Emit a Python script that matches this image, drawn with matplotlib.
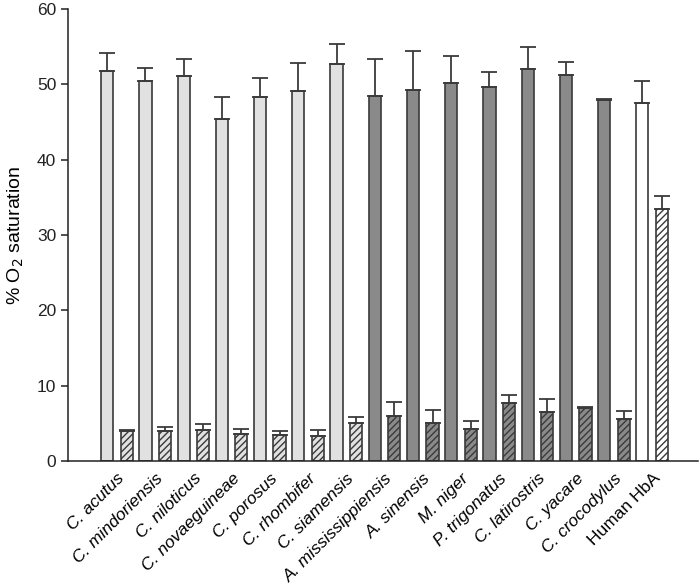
import numpy as np
import matplotlib
matplotlib.use('Agg')
import matplotlib.pyplot as plt

plt.rcParams['font.family'] = ['Liberation Sans', 'DejaVu Sans']
plt.rcParams['hatch.linewidth'] = 1.0

species = ['C. acutus', 'C. mindoriensis', 'C. niloticus', 'C. novaeguineae',
           'C. porosus', 'C. rhombifer', 'C. siamensis', 'A. mississippiensis',
           'A. sinensis', 'M. niger', 'P. trigonatus', 'C. latirostris',
           'C. yacare', 'C. crocodylus', 'Human HbA']

# plain bars and their upper error
plain_vals = [51.8, 50.4, 51.1, 45.4, 48.3, 49.1, 52.7, 48.4,
              49.3, 50.2, 49.7, 52.0, 51.2, 47.9, 47.5]
plain_err = [2.4, 1.8, 2.2, 2.9, 2.6, 3.7, 2.6, 5.0,
             5.1, 3.5, 2.0, 2.9, 1.8, 0.1, 2.9]

# hatched bars and their upper error
hatch_vals = [4.0, 4.0, 4.1, 3.6, 3.5, 3.3, 5.1, 6.0,
              5.1, 4.2, 7.7, 6.5, 7.1, 5.6, 33.45]
hatch_err = [0.1, 0.5, 0.85, 0.65, 0.45, 0.85, 0.8, 1.8,
             1.7, 1.15, 1.0, 1.7, 0.1, 1.1, 1.75]

# fill per group: crocodylids light, alligatorids dark, human white
LIGHT = '#e1e1e1'
DARK = '#8a8a8a'
WHITE = '#ffffff'
fills = [LIGHT] * 7 + [DARK] * 7 + [WHITE]
EDGE = '#3a3a3a'

fig = plt.figure(figsize=(7.0, 5.87), dpi=100)
ax = fig.add_axes([68 / 700, 126 / 587, 630 / 700, 452 / 587])

x = np.arange(len(species))
w = 0.32
off = 0.255

ax.bar(x - off, plain_vals, w, color=fills, edgecolor=EDGE, linewidth=1.2,
       yerr=[np.zeros(len(x)), plain_err], ecolor=EDGE,
       error_kw=dict(elinewidth=1.3, capsize=6, capthick=1.3), zorder=2)
ax.bar(x + off, hatch_vals, w, color=fills, edgecolor=EDGE, linewidth=1.2,
       hatch='/////', yerr=[np.zeros(len(x)), hatch_err], ecolor=EDGE,
       error_kw=dict(elinewidth=1.3, capsize=6, capthick=1.3), zorder=2)

ax.set_xlim(-1.28, 15.2)
ax.set_ylim(0, 60)
ax.set_yticks(range(0, 61, 10))
ax.tick_params(axis='y', direction='out', length=5, width=1.1,
               labelsize=12.5, colors='#222222')
ax.tick_params(axis='x', length=0, pad=7)

ax.set_xticks(x)
ax.set_xticklabels(species, rotation=45, ha='right', rotation_mode='anchor',
                   fontsize=12.5)
for lab in ax.get_xticklabels()[:-1]:
    lab.set_style('italic')

for side in ('top', 'right'):
    ax.spines[side].set_visible(False)
for side in ('left', 'bottom'):
    ax.spines[side].set_linewidth(1.1)
    ax.spines[side].set_color('#222222')

ax.set_ylabel('% O$_2$ saturation', fontsize=14, labelpad=8)

plt.savefig('out.png', dpi=100)
